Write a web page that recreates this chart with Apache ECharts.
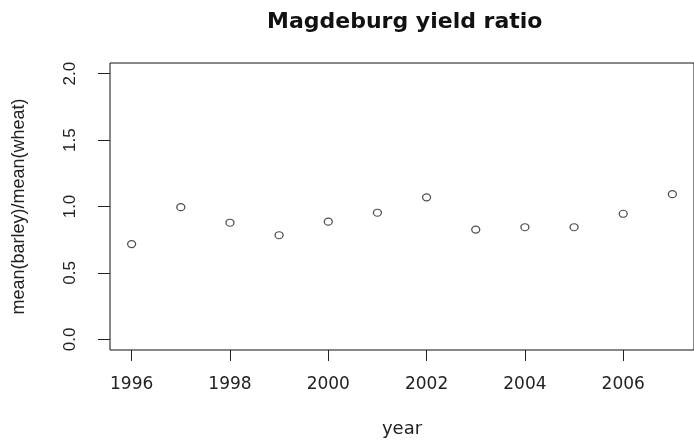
<!DOCTYPE html>
<html>
<head>
<meta charset="utf-8">
<script src="https://cdn.jsdelivr.net/npm/echarts@6/dist/echarts.min.js"></script>
<style>
html,body{margin:0;padding:0;background:#fff;}
#chart{width:694px;height:443px;}
</style>
</head>
<body>
<div id="chart"></div>
<script>
const titleText = 'Magdeburg yield ratio';
const xName = 'year';
const yName = 'mean(barley)/mean(wheat)';
const years = [1996, 1997, 1998, 1999, 2000, 2001, 2002, 2003, 2004, 2005, 2006, 2007];
const ratio = [0.717, 0.995, 0.878, 0.784, 0.886, 0.953, 1.069, 0.826, 0.844, 0.844, 0.945, 1.093];
const xTicks = [1996, 1998, 2000, 2002, 2004, 2006];
const yTicks = [0, 0.5, 1, 1.5, 2];

const chart = echarts.init(document.getElementById('chart'), null, {renderer: 'canvas'});
chart.setOption({
  animation: false,
  backgroundColor: '#fff',
  title: {
    text: titleText,
    left: 267,
    top: 11,
    padding: 0,
    textStyle: {fontFamily: 'DejaVu Sans', fontWeight: 'bold', fontSize: 22, color: '#111'}
  },
  grid: {
    left: 110, top: 63, right: -4.5, bottom: 90,
    show: true, borderColor: '#111', borderWidth: 1, backgroundColor: 'transparent',
    containLabel: false
  },
  xAxis: {
    type: 'value',
    min: 1995.56, max: 2007.44,
    name: xName,
    nameLocation: 'middle',
    nameGap: 70,
    nameTextStyle: {fontFamily: 'DejaVu Sans', fontSize: 18, color: '#222'},
    axisLine: {show: false, onZero: false},
    axisTick: {show: true, inside: false, length: 11, customValues: xTicks, lineStyle: {color: '#222', width: 1}},
    axisLabel: {
      show: true, margin: 26, customValues: xTicks,
      fontFamily: 'DejaVu Sans', fontSize: 17, color: '#222',
      formatter: v => String(Math.round(v))
    },
    splitLine: {show: false}
  },
  yAxis: {
    type: 'value',
    min: -0.08, max: 2.08,
    name: yName,
    nameLocation: 'middle',
    nameGap: 82,
    nameTextStyle: {fontFamily: 'Liberation Sans', fontSize: 18, color: '#222'},
    axisLine: {show: false, onZero: false},
    axisTick: {show: true, inside: false, length: 12, customValues: yTicks, lineStyle: {color: '#222', width: 1}},
    axisLabel: {
      show: true, rotate: 90, margin: 31, customValues: yTicks,
      fontFamily: 'Liberation Sans', fontSize: 17, color: '#222',
      formatter: v => Number(v).toFixed(1)
    },
    splitLine: {show: false}
  },
  series: [{
    type: 'scatter',
    data: years.map((y, i) => [y, ratio[i]]),
    symbol: 'circle',
    symbolSize: [8, 7],
    itemStyle: {color: '#fff', borderColor: '#222', borderWidth: 1.2},
    emphasis: {disabled: true}
  }]
});
</script>
</body>
</html>
